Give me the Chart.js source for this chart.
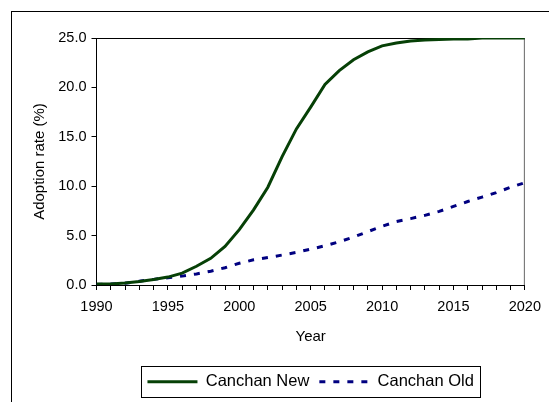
<!DOCTYPE html>
<html>
<head>
<meta charset="utf-8">
<script src="https://cdn.jsdelivr.net/npm/chart.js@4.4.0/dist/chart.umd.min.js"></script>
<style>
  html, body { margin: 0; padding: 0; background: #fff; }
  #wrap { width: 549px; height: 402px; position: relative; }
</style>
</head>
<body>
<div id="wrap"><canvas id="adoption" width="549" height="402"></canvas></div>
<script>
// Dữ liệu
const years = [1990, 1991, 1992, 1993, 1994, 1995, 1996, 1997, 1998, 1999,
  2000, 2001, 2002, 2003, 2004, 2005, 2006, 2007, 2008, 2009,
  2010, 2011, 2012, 2013, 2014, 2015, 2016, 2017, 2018, 2019, 2020];
const canchanNew = [0.1, 0.1, 0.2, 0.35, 0.55, 0.8, 1.2, 1.9, 2.7, 3.9,
  5.6, 7.6, 9.9, 13.0, 15.8, 18.0, 20.3, 21.7, 22.8, 23.6,
  24.2, 24.5, 24.7, 24.8, 24.85, 24.9, 24.9, 25.0, 25.0, 25.0, 25.0];
const canchanOld = [0.05, 0.1, 0.17, 0.38, 0.57, 0.73, 0.9, 1.12, 1.4, 1.75,
  2.2, 2.55, 2.78, 3.03, 3.3, 3.63, 3.97, 4.37, 4.85, 5.4,
  5.95, 6.42, 6.72, 7.05, 7.45, 7.95, 8.45, 8.9, 9.35, 9.9, 10.35];
const seriesNames = ["Canchan New", "Canchan Old"];

const FONT = "'Liberation Sans', Arial, sans-serif";

// Khung ngoài, viền vùng vẽ và khung chú thích
const framePlugin = {
  id: "frames",
  beforeDraw(chart) {
    const ctx = chart.ctx;
    ctx.save();
    ctx.strokeStyle = "#000";
    ctx.lineWidth = 1;
    ctx.strokeRect(11.5, 11.5, 700, 700);
    ctx.restore();
  },
  beforeDatasetsDraw(chart) {
    const { ctx, chartArea: a } = chart;
    ctx.save();
    ctx.lineWidth = 1;
    ctx.strokeStyle = "#000";
    ctx.beginPath();
    ctx.moveTo(a.left, a.top + 0.5);
    ctx.lineTo(a.right, a.top + 0.5);
    ctx.stroke();
    ctx.strokeStyle = "#666";
    ctx.beginPath();
    ctx.moveTo(a.right - 0.5, a.top);
    ctx.lineTo(a.right - 0.5, a.bottom);
    ctx.stroke();
    ctx.restore();
  },
  afterDraw(chart) {
    const boxes = chart.legend && chart.legend.legendHitBoxes;
    if (!boxes || !boxes.length) return;
    const first = boxes[0];
    const last = boxes[boxes.length - 1];
    const left = Math.round(first.left - 6) + 0.5;
    const right = Math.round(last.left + last.width + 6) + 0.5;
    const cy = first.top + first.height / 2;
    const top = Math.round(cy - 15.5) + 0.5;
    const ctx = chart.ctx;
    ctx.save();
    ctx.strokeStyle = "#000";
    ctx.lineWidth = 1;
    ctx.strokeRect(left, top, right - left, 31);
    ctx.restore();
  },
};

const data = {
  datasets: [
    {
      label: seriesNames[0],
      data: years.map((y, i) => ({ x: y, y: canchanNew[i] })),
      borderColor: "#064006",
      backgroundColor: "#064006",
      borderWidth: 3,
      pointRadius: 0,
      tension: 0,
    },
    {
      label: seriesNames[1],
      data: years.map((y, i) => ({ x: y, y: canchanOld[i] })),
      borderColor: "#000080",
      backgroundColor: "#000080",
      borderWidth: 3,
      borderDash: [6, 8],
      pointRadius: 0,
      tension: 0,
    },
  ],
};

const config = {
  type: "line",
  data: data,
  plugins: [framePlugin],
  options: {
    responsive: false,
    animation: false,
    layout: { padding: { top: 38, right: 20, bottom: 2, left: 0 } },
    plugins: {
      tooltip: { enabled: false },
      legend: {
        position: "bottom",
        fullSize: false,
        labels: {
          usePointStyle: true,
          pointStyle: "line",
          pointStyleWidth: 50,
          padding: 10,
          color: "#000",
          font: { family: FONT, size: 16.5 },
          generateLabels(chart) {
            const items = Chart.defaults.plugins.legend.labels.generateLabels(chart);
            items.forEach((it, i) => {
              const ds = chart.data.datasets[i];
              it.pointStyle = "line";
              it.lineDash = ds.borderDash || [];
              it.lineWidth = ds.borderWidth;
              it.strokeStyle = ds.borderColor;
              it.fillStyle = ds.borderColor;
            });
            return items;
          },
        },
      },
    },
    scales: {
      x: {
        type: "linear",
        min: 1990,
        max: 2020,
        afterFit(s) { s.height = 78.5; },
        border: { display: true, color: "#000", width: 1 },
        grid: { drawOnChartArea: false, drawTicks: true, tickLength: 5, color: "#000" },
        ticks: {
          stepSize: 1,
          maxTicksLimit: 40,
          autoSkip: false,
          maxRotation: 0,
          padding: 8,
          color: "#000",
          font: { family: FONT, size: 14.5 },
          callback: (v) => (v % 5 === 0 ? String(v) : ""),
        },
        title: {
          display: true,
          text: "Year",
          color: "#000",
          font: { family: FONT, size: 15 },
          padding: { top: 0, bottom: 17.5 },
        },
      },
      y: {
        min: 0,
        max: 25,
        afterFit(s) { s.width = 96.5; },
        border: { display: true, color: "#000", width: 1 },
        grid: { drawOnChartArea: false, drawTicks: true, tickLength: 5, color: "#000" },
        ticks: {
          stepSize: 5,
          padding: 5,
          color: "#000",
          font: { family: FONT, size: 14.5 },
          callback: (v) => v.toFixed(1),
        },
        title: {
          display: true,
          text: "Adoption rate (%)",
          color: "#000",
          font: { family: FONT, size: 15 },
          padding: { top: 31, bottom: 0 },
        },
      },
    },
  },
};

new Chart(document.getElementById("adoption"), config);
</script>
</body>
</html>
